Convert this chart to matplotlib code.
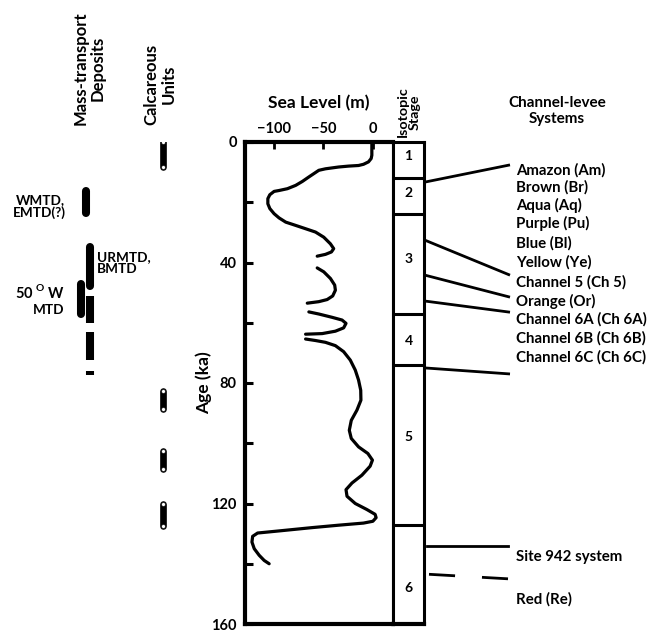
import matplotlib
matplotlib.use("Agg")
import matplotlib.pyplot as plt
from matplotlib.ticker import MultipleLocator

plt.rcParams['font.family'] = ['Lato', 'DejaVu Sans']
plt.rcParams['font.weight'] = 'bold'
plt.rcParams['axes.titleweight'] = 'bold'
plt.rcParams['axes.labelweight'] = 'bold'
plt.rcParams['mathtext.fontset'] = 'custom'
plt.rcParams['mathtext.rm'] = 'Lato:bold'

# sea level curve (age in ka, sea level in m), drawn as separate pieces
seg_ages = [
    [0, 4.4, 5.5, 6.6, 7.4, 7.8, 8.0, 8.3, 8.9, 9.4, 10.5, 11.6, 13.1, 14.4, 15.5, 16.1, 16.4,
     17.5, 18.8, 20.5, 22.1, 23.8, 25.2, 26.6, 27.5, 28.6, 29.9, 31.6, 33.8, 35.4, 36.5, 37.3, 37.9],
    [41.8, 43.1, 45.3, 47.5, 49.2, 51.1, 52.3, 53.0, 53.5],
    [56.4, 57.1, 58.2, 59.1, 60.2, 61.7, 62.8, 63.6, 63.8],
    [65.4, 65.9, 66.5, 67.6, 69.6, 72.4, 75.7, 79.0, 82.4, 85.7, 89.0, 92.4, 95.7, 98.4, 101.2,
     103.4, 105.6, 107.6, 110.6, 113.2, 115.4, 117.6, 120.0, 122.0, 123.6, 124.7, 125.9, 126.5,
     127.2, 128.0, 129.1, 129.8, 130.9, 132.8, 135.0, 137.2, 138.9, 140.0],
]
seg_levels = [
    [-1.3, -1.3, -2, -4.7, -9.7, -14.7, -24.7, -34.7, -48, -54.7, -59.7, -64.7, -71.3, -78, -86.3,
     -94.7, -99.7, -104, -106, -106, -104, -99.7, -94.7, -88, -79.7, -69.7, -58, -49.7, -43, -39.7,
     -42, -48, -56.3],
    [-56.3, -49.7, -43, -38.7, -38, -40.7, -46.3, -54.7, -66.3],
    [-64.7, -54.7, -41.3, -31.3, -27.3, -29.7, -38, -51.3, -68],
    [-68, -58, -48, -38, -29.7, -23, -18, -14.7, -12.5, -12.3, -16.3, -22, -24, -22, -14.7,
     -5.3, -0.7, -3, -11.3, -21.3, -27.3, -26.3, -18, -6.3, 2, 3, -0.3, -9.7,
     -34.7, -61.3, -94.7, -116.3, -121.3, -122, -119.7, -114.7, -109.7, -104.7],
]

# isotopic stages
stage_bounds = [0, 12, 24, 57, 74, 127, 160]
stage_names = ['1', '2', '3', '4', '5', '6']
stage_label_age = [4.5, 17, 39, 66, 98, 148]

# channel-levee systems
channel_names = ['Amazon (Am)', 'Brown (Br)', 'Aqua (Aq)', 'Purple (Pu)', 'Blue (Bl)',
                 'Yellow (Ye)', 'Channel 5 (Ch 5)', 'Orange (Or)', 'Channel 6A (Ch 6A)',
                 'Channel 6B (Ch 6B)', 'Channel 6C (Ch 6C)']
channel_label_age = [9.3, 15, 21.2, 27.2, 33.5, 39.8, 46.5, 52.8, 58.8, 65.1, 71.4]
link_from = [13.3, 32.6, 44.2, 52.8, 75]
link_to = [7.6, 44.2, 51.5, 56.5, 77]
site942_age = 134
red_age = (143.5, 145)
lower_names = ['Site 942 system', 'Red (Re)']
lower_label_age = [137.8, 151.8]

# mass-transport deposits
mtd_round = [(16.3, 23.7), (34.8, 47.7), (47.3, 57.2)]
mtd_round_x = [86, 90, 81]
mtd_rect = [(51, 60), (63, 72.5), (76, 77.5)]

# calcareous units
calc_units = [(0, 8.2), (82.5, 88.5), (102.5, 108.5), (120, 127.5)]

fig = plt.figure(figsize=(6.55, 6.33), dpi=100)
W, H = 655.0, 633.0
top_px, bot_px = 142, 624
bottom = (H - bot_px) / H
height = (bot_px - top_px) / H

# overlay in (pixel x, ka) coordinates
ov = fig.add_axes([0, bottom, 1, height])
ov.set_xlim(0, W)
ov.set_ylim(160, 0)
ov.axis('off')

ax = fig.add_axes([245 / W, bottom, (393 - 245) / W, height])
for a, s in zip(seg_ages, seg_levels):
    ax.plot(s, a, color='black', lw=2.3, solid_capstyle='round', solid_joinstyle='round')
ax.set_xlim(-129, 20)
ax.set_ylim(160, 0)
ax.xaxis.tick_top()
ax.set_xticks([-100, -50, 0])
ax.yaxis.set_major_locator(MultipleLocator(40))
ax.yaxis.set_minor_locator(MultipleLocator(20))
ax.tick_params(axis='x', direction='in', length=5, width=2, labelsize=10.5, pad=4)
ax.tick_params(axis='y', which='both', direction='in', length=6, width=2.2, labelsize=10.5, pad=6)
for sp in ['left', 'top', 'bottom']:
    ax.spines[sp].set_linewidth(3)
ax.spines['right'].set_linewidth(2.2)
ax.set_ylabel('Age (ka)', fontsize=12.6, labelpad=-1)
ax.set_title('Sea Level (m)', fontsize=12.5, pad=24)

st = fig.add_axes([393 / W, bottom, (424 - 393) / W, height])
st.set_xlim(0, 1)
st.set_ylim(160, 0)
st.set_xticks([])
st.set_yticks([])
for sp in ['left', 'right', 'top']:
    st.spines[sp].set_linewidth(2.2)
st.spines['bottom'].set_linewidth(3)
for b in stage_bounds[1:-1]:
    st.axhline(b, color='black', lw=2.2)
for name, yy in zip(stage_names, stage_label_age):
    st.text(0.5, yy, name, ha='center', va='center', fontsize=10)

ov.text(409, -1.6, 'Isotopic\nStage', rotation=90, ha='center', va='bottom',
        fontsize=10.3, linespacing=0.95, fontweight='bold')
ov.text(557, -10.2, 'Channel-levee\nSystems', ha='center', va='center', fontsize=11,
        linespacing=1.15, fontweight='bold')

# links from stages to channel names
for y0, y1 in zip(link_from, link_to):
    ov.plot([425, 510], [y0, y1], color='black', lw=2, solid_capstyle='butt')
ov.plot([427, 508], [site942_age, site942_age], color='black', lw=2)
ov.plot([429, 508], list(red_age), color='black', lw=2, dashes=(9.4, 9.7))
for name, yy in zip(channel_names + lower_names, channel_label_age + lower_label_age):
    ov.text(516, yy, name, ha='left', va='center', fontsize=10.8)

# column headers on the left
ov.text(89, -5.6, 'Mass-transport\nDeposits', rotation=90, ha='center', va='bottom',
        fontsize=12, linespacing=1.05, multialignment='center', fontweight='bold')
ov.text(160, -5.6, 'Calcareous\nUnits', rotation=90, ha='center', va='bottom',
        fontsize=12, linespacing=1.05, multialignment='center', fontweight='bold')

for (y0, y1), xx in zip(mtd_round, mtd_round_x):
    ov.plot([xx, xx], [y0, y1], color='black', lw=5.8, solid_capstyle='round')
for y0, y1 in mtd_rect:
    ov.plot([90, 90], [y0, y1], color='black', lw=5.8, solid_capstyle='butt')

for y0, y1 in calc_units:
    ov.plot([163, 163], [y0, y1], color='black', lw=4.8, solid_capstyle='round')
    ov.plot([163, 163], [y0, y1], ls='none', marker='o', ms=2.8,
            mfc='white', mec='black', mew=0.4)

ov.text(65, 19.3, 'WMTD,', ha='right', va='center', fontsize=9.8)
ov.text(66, 23.6, 'EMTD(?)', ha='right', va='center', fontsize=9.8)
ov.text(97, 38.2, 'URMTD,', ha='left', va='center', fontsize=9.8)
ov.text(97, 42.2, 'BMTD', ha='left', va='center', fontsize=9.8)
ov.text(65, 49.8, r'50 $^{\mathrm{O}}$ W', ha='right', va='center', fontsize=10.5)
ov.text(64, 55.8, 'MTD', ha='right', va='center', fontsize=9.8)

fig.savefig('out.png', dpi=100)
